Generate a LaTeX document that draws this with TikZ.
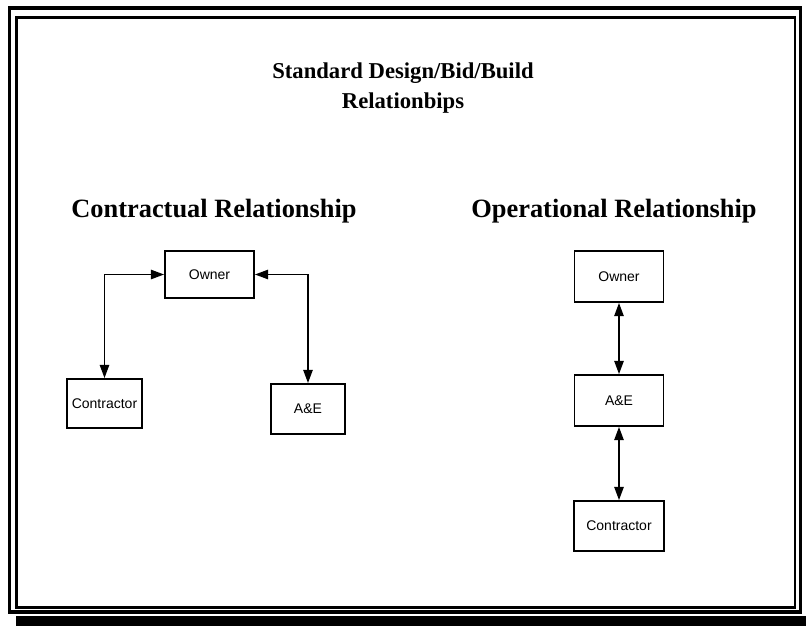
\documentclass[tikz,border=0pt]{standalone}
\usepackage{fontspec}
\setmainfont{Liberation Serif}
\newfontfamily\boxfont{Liberation Sans}
\usetikzlibrary{arrows.meta}

\tikzset{every picture/.style={line width=0.75pt}}
\tikzset{
  relbox/.style={draw, line width=1.3pt, inner sep=0pt, font=\boxfont\fontsize{10.5}{12}\selectfont},
  heading/.style={anchor=base, font=\bfseries\fontsize{19.8}{24}\selectfont},
  titletext/.style={anchor=base, font=\bfseries\fontsize{17}{20}\selectfont},
  rel/.style={line width=1.4pt, {Triangle[length=10pt,width=7pt]}-{Triangle[length=10pt,width=7pt]}},
}

\begin{document}
\begin{tikzpicture}[x=0.75pt,y=0.75pt,yscale=-1,xscale=1]
\useasboundingbox (0,0) rectangle (806,626);

%Shape: Rectangle [id:frame_outer]
\draw [line width=2.5pt] (9.5,8) rectangle (800.5,612);
%Shape: Rectangle [id:frame_inner]
\draw [line width=2.2pt] (16.5,17.5) rectangle (795,607.5);
%Shape: Rectangle [id:shadow]
\fill (16,615.5) rectangle (806,626);

% Text Node
\node [titletext] (title1) at (403,78) {Standard Design/Bid/Build};
% Text Node
\node [titletext] (title2) at (403,108) {Relationbips};
% Text Node
\node [heading] (hcontract) at (214,217) {Contractual Relationship};
% Text Node
\node [heading] (hoperate) at (614,217) {Operational Relationship};

%Shape: Rectangle [id:owner1]
\node [relbox, minimum width=66.75pt, minimum height=35.25pt] (owner1) at (209.5,274.5) {Owner};
%Shape: Rectangle [id:contr1]
\node [relbox, minimum width=56.25pt, minimum height=36.75pt] (contr1) at (104.5,403.5) {Contractor};
%Shape: Rectangle [id:ae1]
\node [relbox, minimum width=55.5pt, minimum height=37.5pt] (ae1) at (308,409) {A\&E};

%Shape: Rectangle [id:owner2]
\node [relbox, minimum width=66.75pt, minimum height=38.25pt] (owner2) at (619,276.5) {Owner};
%Shape: Rectangle [id:ae2]
\node [relbox, minimum width=66.75pt, minimum height=38.25pt] (ae2) at (619,400.5) {A\&E};
%Shape: Rectangle [id:contr2]
\node [relbox, minimum width=67.5pt, minimum height=37.5pt] (contr2) at (619,526) {Contractor};

%Straight Lines [id:contract_links]
\draw [rel] (contr1.north) |- (owner1.west);
\draw [rel] (owner1.east) -| (ae1.north);

%Straight Lines [id:operate_links]
\draw [rel] (owner2) -- (ae2);
\draw [rel] (ae2) -- (contr2);

\end{tikzpicture}
\end{document}
